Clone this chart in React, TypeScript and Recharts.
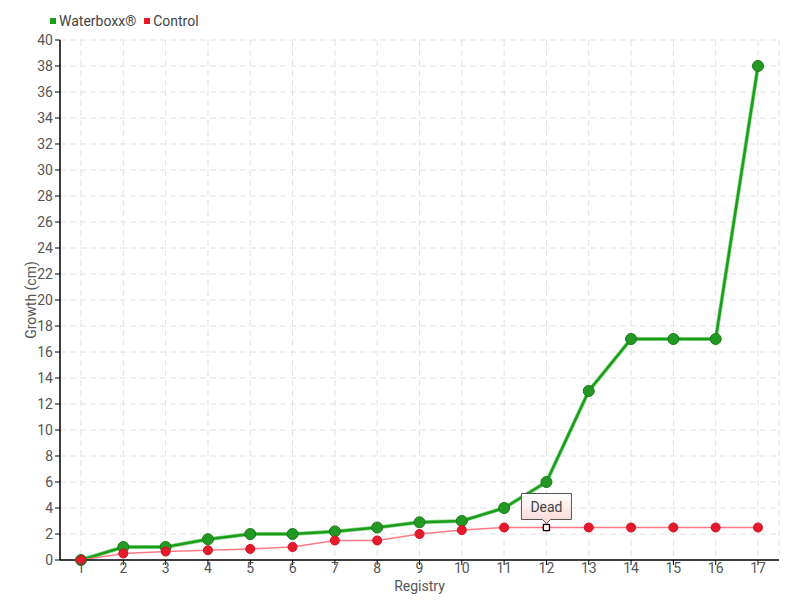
import React from 'react';
import { LineChart, Line, XAxis, YAxis, CartesianGrid } from 'recharts';

const registry = ['1','2','3','4','5','6','7','8','9','10','11','12','13','14','15','16','17'];
const waterboxx = [0, 1, 1, 1.6, 2, 2, 2.2, 2.5, 2.9, 3, 4, 6, 13, 17, 17, 17, 38];
const control = [0, 0.5, 0.65, 0.75, 0.85, 1, 1.5, 1.5, 2, 2.3, 2.5, 2.5, 2.5, 2.5, 2.5, 2.5, 2.5];
const yTicks = Array.from({ length: 21 }, (_, i) => i * 2);
const deadIndex = 11;
const deadText = 'Dead';

const data = registry.map((r, i) => ({ r, w: waterboxx[i], c: control[i] }));

const FONT = "Roboto, 'Liberation Sans Narrow', sans-serif";

const ControlDot = (props: any) => {
  const { cx, cy, index } = props;
  if (index === deadIndex) {
    return (
      <g key={'d' + index}>
        <circle cx={cx} cy={cy} r={4} fill="#e8192c" />
        <rect x={cx - 3} y={cy - 3} width={6} height={6} fill="#fff" stroke="#000" strokeWidth={1.2} />
        <defs>
          <linearGradient id="deadg" x1="0" y1="0" x2="0" y2="1">
            <stop offset="0%" stopColor="#ffffff" />
            <stop offset="100%" stopColor="#fbd6d6" />
          </linearGradient>
        </defs>
        <path
          d={`M${cx - 25},${cy - 34} L${cx + 25},${cy - 34} L${cx + 25},${cy - 8} L${cx + 4},${cy - 8} L${cx},${cy - 4} L${cx - 4},${cy - 8} L${cx - 25},${cy - 8} Z`}
          fill="url(#deadg)"
          stroke="#555"
          strokeWidth={1}
        />
        <text x={cx} y={cy - 16} textAnchor="middle" fontSize={14} fill="#444" fontFamily={FONT}>{deadText}</text>
      </g>
    );
  }
  return <circle key={'c' + index} cx={cx} cy={cy} r={4.5} fill="#e8192c" stroke="#d01020" strokeWidth={1} />;
};

export default function App() {
  return (
    <div style={{ position: 'absolute', left: 0, top: 0, width: 800, height: 600, background: '#fff', fontFamily: FONT }}>
      <div style={{ position: 'absolute', left: 50, top: 13, fontSize: 14, color: '#444', display: 'flex', alignItems: 'center', whiteSpace: 'nowrap' }}>
        <span style={{ width: 6, height: 6, background: '#1a9e1a', display: 'inline-block', marginRight: 3 }} />
        <span>Waterboxx®</span>
        <span style={{ width: 6, height: 6, background: '#e8192c', display: 'inline-block', marginLeft: 8, marginRight: 3 }} />
        <span>Control</span>
      </div>
      <LineChart width={800} height={600} data={data} margin={{ top: 40, right: 21, left: 0, bottom: 0 }}>
        <CartesianGrid stroke="#e2e2e2" strokeDasharray="6 4" />
        <XAxis
          dataKey="r"
          height={40}
          padding={{ left: 21, right: 21 }}
          axisLine={{ stroke: '#000', strokeWidth: 1.5 }}
          tickLine={{ stroke: '#000' }}
          tickSize={5}
          tick={{ fill: '#555', fontSize: 14, fontFamily: FONT, dy: -4 }}
          interval={0}
          label={{ value: 'Registry', position: 'insideBottom', offset: 9, fill: '#555', fontSize: 14, fontFamily: FONT }}
        />
        <YAxis
          width={60}
          domain={[0, 40]}
          ticks={yTicks}
          interval={0}
          axisLine={{ stroke: '#000', strokeWidth: 1.5 }}
          tickLine={{ stroke: '#000' }}
          tickSize={5}
          tick={{ fill: '#555', fontSize: 14, fontFamily: FONT }}
          label={{ value: 'Growth (cm)', angle: -90, position: 'insideLeft', offset: 31, fill: '#555', fontSize: 14, fontFamily: FONT, style: { textAnchor: 'middle' } }}
        />
        <Line
          dataKey="w"
          stroke="#8fd68f"
          strokeWidth={4}
          dot={false}
          activeDot={false}
          isAnimationActive={false}
        />
        <Line
          dataKey="w"
          stroke="#1a9e1a"
          strokeWidth={2.5}
          dot={{ r: 5.5, fill: '#229922', stroke: '#1a7a1a', strokeWidth: 1 }}
          activeDot={false}
          isAnimationActive={false}
        />
        <Line
          dataKey="c"
          stroke="#ff7a85"
          strokeWidth={1.5}
          dot={ControlDot}
          activeDot={false}
          isAnimationActive={false}
        />
      </LineChart>
    </div>
  );
}
